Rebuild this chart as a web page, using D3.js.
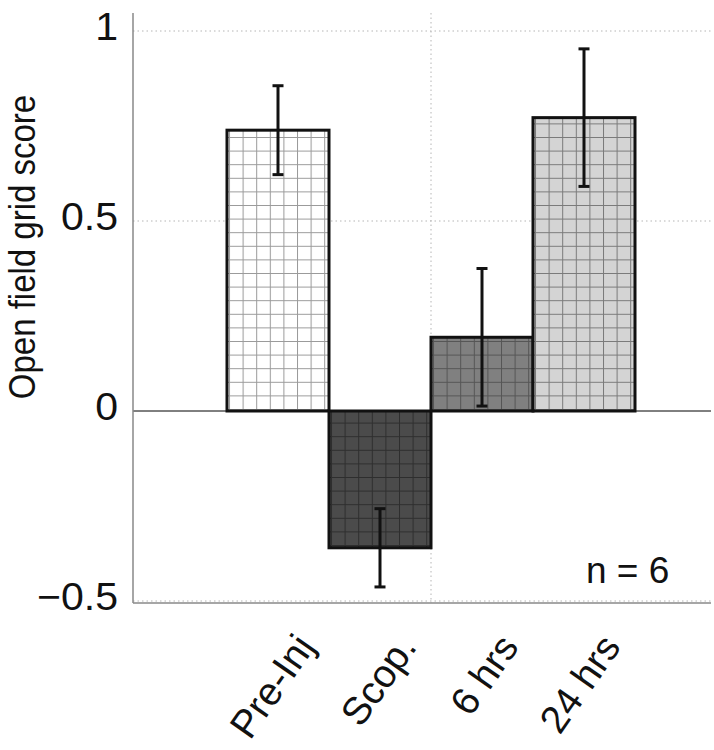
<!DOCTYPE html>
<html>
<head>
<meta charset="utf-8">
<script src="https://cdn.jsdelivr.net/npm/d3@7"></script>
<style>
  html, body { margin: 0; padding: 0; background: #fff; }
  svg { display: block; }
  text { font-family: "Liberation Sans", Arial, Helvetica, sans-serif; fill: #111; }
</style>
</head>
<body>
<div id="chart"></div>
<script>
// ---- data ----
const categories = ["Pre-Inj", "Scop.", "6 hrs", "24 hrs"];
const means = [0.739, -0.360, 0.194, 0.772];
const errors = [0.117, 0.103, 0.181, 0.181];
const fills = ["#ffffff", "#4b4b4b", "#808080", "#d4d4d4"];
const gridColors = ["#9a9a9a", "#2e2e2e", "#555555", "#7a7a7a"];
const yTicks = [-0.5, 0, 0.5, 1];
const yTickLabels = ["\u22120.5", "0", "0.5", "1"];
const yLabel = "Open field grid score";
const note = "n = 6";

// ---- layout ----
const W = 714, H = 750;
const plotLeft = 133, plotRight = 711, plotTop = 13, plotBottom = 603;

const svg = d3.select("#chart").append("svg").attr("width", W).attr("height", H);

const y = d3.scaleLinear().domain([-0.5, 1]).range([601, 31]);
const x = d3.scaleBand().domain(categories).range([227, 635]).padding(0);

// patterns
const defs = svg.append("defs");
const cell = 13.6;
categories.forEach((c, i) => {
  const p = defs.append("pattern")
    .attr("id", "pat" + i)
    .attr("patternUnits", "userSpaceOnUse")
    .attr("x", x(c) + 2).attr("y", y(0) - 2)
    .attr("width", cell).attr("height", cell);
  p.append("rect").attr("width", cell).attr("height", cell).attr("fill", fills[i]);
  p.append("line").attr("x1", 0).attr("x2", cell).attr("y1", 0.5).attr("y2", 0.5)
    .attr("stroke", gridColors[i]).attr("stroke-width", 1);
  p.append("line").attr("y1", 0).attr("y2", cell).attr("x1", 0.5).attr("x2", 0.5)
    .attr("stroke", gridColors[i]).attr("stroke-width", 1);
});

// grid lines (dotted)
const grid = svg.append("g");
yTicks.filter(t => t !== 0).forEach(t => {
  grid.append("line")
    .attr("x1", plotLeft).attr("x2", plotRight)
    .attr("y1", y(t)).attr("y2", y(t))
    .attr("stroke", "#b5b5b5").attr("stroke-width", 1)
    .attr("stroke-dasharray", "1.5,3");
});
// vertical grid line between 2nd and 3rd category
grid.append("line")
  .attr("x1", x(categories[2])).attr("x2", x(categories[2]))
  .attr("y1", plotTop).attr("y2", plotBottom)
  .attr("stroke", "#b5b5b5").attr("stroke-width", 1)
  .attr("stroke-dasharray", "1.5,3");

// zero line
svg.append("line")
  .attr("x1", plotLeft).attr("x2", plotRight)
  .attr("y1", y(0)).attr("y2", y(0))
  .attr("stroke", "#000").attr("stroke-width", 1);

// bars
svg.append("g").selectAll("rect")
  .data(categories)
  .join("rect")
  .attr("x", d => x(d))
  .attr("width", x.bandwidth())
  .attr("y", (d, i) => y(Math.max(0, means[i])))
  .attr("height", (d, i) => Math.abs(y(means[i]) - y(0)))
  .attr("fill", (d, i) => `url(#pat${i})`)
  .attr("stroke", "#111")
  .attr("stroke-width", 3);

// error bars
const eb = svg.append("g").attr("stroke", "#111").attr("stroke-width", 3);
const capW = 11;
categories.forEach((c, i) => {
  const cx = x(c) + x.bandwidth() / 2;
  const lo = y(means[i] - errors[i]), hi = y(means[i] + errors[i]);
  eb.append("line").attr("x1", cx).attr("x2", cx).attr("y1", lo).attr("y2", hi);
  eb.append("line").attr("x1", cx - capW / 2).attr("x2", cx + capW / 2).attr("y1", lo).attr("y2", lo);
  eb.append("line").attr("x1", cx - capW / 2).attr("x2", cx + capW / 2).attr("y1", hi).attr("y2", hi);
});

// axes lines
svg.append("line")
  .attr("x1", plotLeft).attr("x2", plotLeft)
  .attr("y1", plotTop).attr("y2", plotBottom)
  .attr("stroke", "#888").attr("stroke-width", 1.5);
svg.append("line")
  .attr("x1", plotLeft).attr("x2", plotRight)
  .attr("y1", plotBottom).attr("y2", plotBottom)
  .attr("stroke", "#888").attr("stroke-width", 1.5);

// y tick labels via d3 axis
const yAxis = d3.axisLeft(y).tickValues(yTicks)
  .tickFormat((d, i) => yTickLabels[i]).tickSize(0).tickPadding(0);
const ya = svg.append("g").attr("transform", `translate(118,0)`).call(yAxis);
ya.select(".domain").remove();
ya.selectAll("text")
  .attr("font-size", 38)
  .style("font-family", "'Liberation Sans', Arial, sans-serif")
  .attr("fill", "#111")
  .attr("x", 0)
  .attr("dy", "0.22em")
  .attr("transform", "scale(1.08,1)");

// x tick labels rotated
const xAxis = d3.axisBottom(x).tickSize(0).tickPadding(0);
const xa = svg.append("g").attr("transform", `translate(0,${plotBottom})`).call(xAxis);
xa.select(".domain").remove();
xa.selectAll("text")
  .attr("font-size", 39)
  .style("font-family", "'Liberation Sans', Arial, sans-serif")
  .attr("fill", "#111")
  .attr("text-anchor", "end")
  .attr("dy", null)
  .attr("y", 0)
  .attr("transform", "translate(38,44) rotate(-55)");

// y label
svg.append("text")
  .attr("transform", "translate(35,247) rotate(-90) scale(1,1.14)")
  .attr("text-anchor", "middle")
  .attr("font-size", 33)
  .text(yLabel);

// note
svg.append("text")
  .attr("x", 586).attr("y", 583)
  .attr("font-size", 37)
  .text(note);
</script>
</body>
</html>
